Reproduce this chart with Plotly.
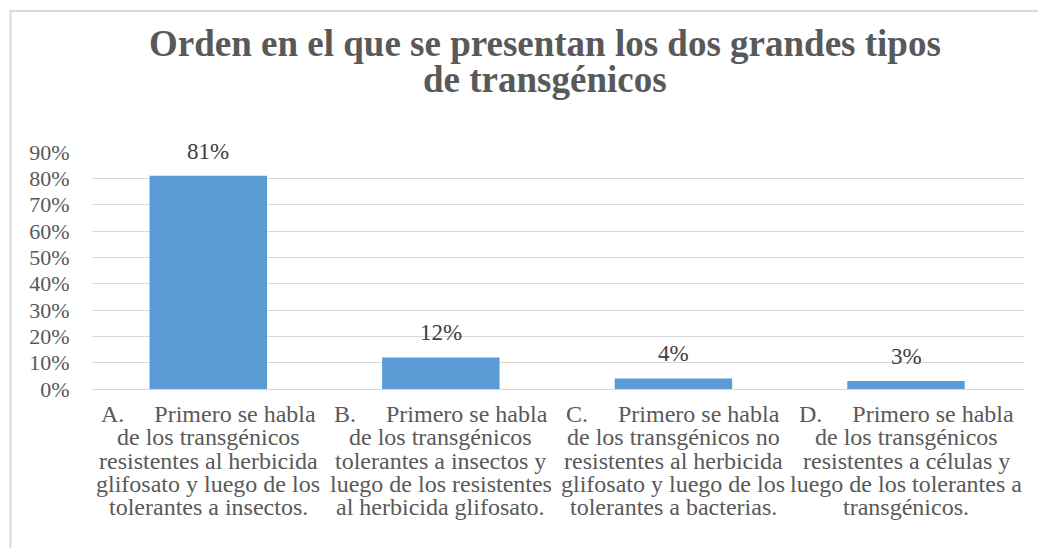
import plotly.graph_objects as go

NB = "\u00a0"
# Category keys and their multi-line labels
categories = ["A", "B", "C", "D"]
category_lines = [
    ["A." + NB*5 + "Primero se habla", "de los transgénicos", "resistentes al herbicida",
     "glifosato y luego de los", "tolerantes a insectos."],
    ["B." + NB*5 + "Primero se habla", "de los transgénicos", "tolerantes a insectos y",
     "luego de los resistentes", "al herbicida glifosato."],
    ["C." + NB*5 + "Primero se habla", "de los transgénicos no", "resistentes al herbicida",
     "glifosato y luego de los", "tolerantes a bacterias."],
    ["D." + NB*5 + "Primero se habla", "de los transgénicos", "resistentes a células y",
     "luego de los tolerantes a", "transgénicos."],
]
values = [0.81, 0.12, 0.04, 0.03]
labels = ["81%", "12%", "4%", "3%"]
tick_vals = [0, 0.1, 0.2, 0.3, 0.4, 0.5, 0.6, 0.7, 0.8, 0.9]
tick_text = ["0%", "10%", "20%", "30%", "40%", "50%", "60%", "70%", "80%", "90%"]
title_lines = ["Orden en el que se presentan los dos grandes tipos", "de transgénicos"]

FONT = "Liberation Serif, Times New Roman, serif"
GRAY = "#595959"
OFF = 8  # page body margin
W, H = 1046 - OFF, 548 - OFF
L, R, T, B = 92 - OFF, 22, 152 - OFF, 159
pw = W - L - R
ph = H - T - B

def px(x):
    return (x - OFF - L) / pw

def py(y):
    return (H - B - (y - OFF)) / ph

fig = go.Figure()
fig.add_trace(go.Bar(
    x=categories, y=values,
    marker=dict(color="#5b9bd5", line=dict(width=0)),
    width=0.505, hoverinfo="skip",
))

annotations = []
# data labels
for c, v, t in zip(categories, values, labels):
    annotations.append(dict(x=c, y=v, xref="x", yref="y", text=t, showarrow=False,
                            xanchor="center", yanchor="bottom", yshift=10,
                            font=dict(family=FONT, size=23, color="#404040")))
# category labels, one annotation per line
line_gap = 23.3
for c, lines in zip(categories, category_lines):
    for i, ln in enumerate(lines):
        annotations.append(dict(x=c, y=py(414 + i * line_gap), xref="x", yref="paper",
                                text=ln, showarrow=False, xanchor="center", yanchor="middle",
                                font=dict(family=FONT, size=24, color=GRAY)))
# title, one annotation per line
for i, ln in enumerate(title_lines):
    annotations.append(dict(x=px(545), y=py(43 + i * 37), xref="paper", yref="paper",
                            text="<b>" + ln + "</b>", showarrow=False,
                            xanchor="center", yanchor="middle",
                            font=dict(family=FONT, size=37, color=GRAY)))

fig.update_layout(
    width=W, height=H,
    margin=dict(l=L, r=R, t=T, b=B),
    paper_bgcolor="white", plot_bgcolor="white",
    showlegend=False,
    font=dict(family=FONT, size=22, color=GRAY),
    xaxis=dict(showgrid=False, showline=False, ticks="", showticklabels=False,
               categoryorder="array", categoryarray=categories),
    yaxis=dict(
        range=[0, 0.9], tickvals=tick_vals, ticktext=tick_text,
        showgrid=True, gridcolor="#d9d9d9", gridwidth=1,
        zeroline=True, zerolinecolor="#d9d9d9", zerolinewidth=1,
        showline=False, ticks="outside", ticklen=17, tickcolor="rgba(0,0,0,0)",
        tickfont=dict(family=FONT, size=22, color=GRAY),
    ),
    bargap=0.495,
    annotations=annotations,
    shapes=[
        dict(type="line", xref="paper", yref="paper",
             x0=px(10), x1=px(1046), y0=py(11), y1=py(11),
             line=dict(color="#d9d9d9", width=2)),
        dict(type="line", xref="paper", yref="paper",
             x0=px(10.5), x1=px(10.5), y0=py(10), y1=py(548),
             line=dict(color="#d9d9d9", width=2)),
    ],
)

fig.write_html("out.html")
